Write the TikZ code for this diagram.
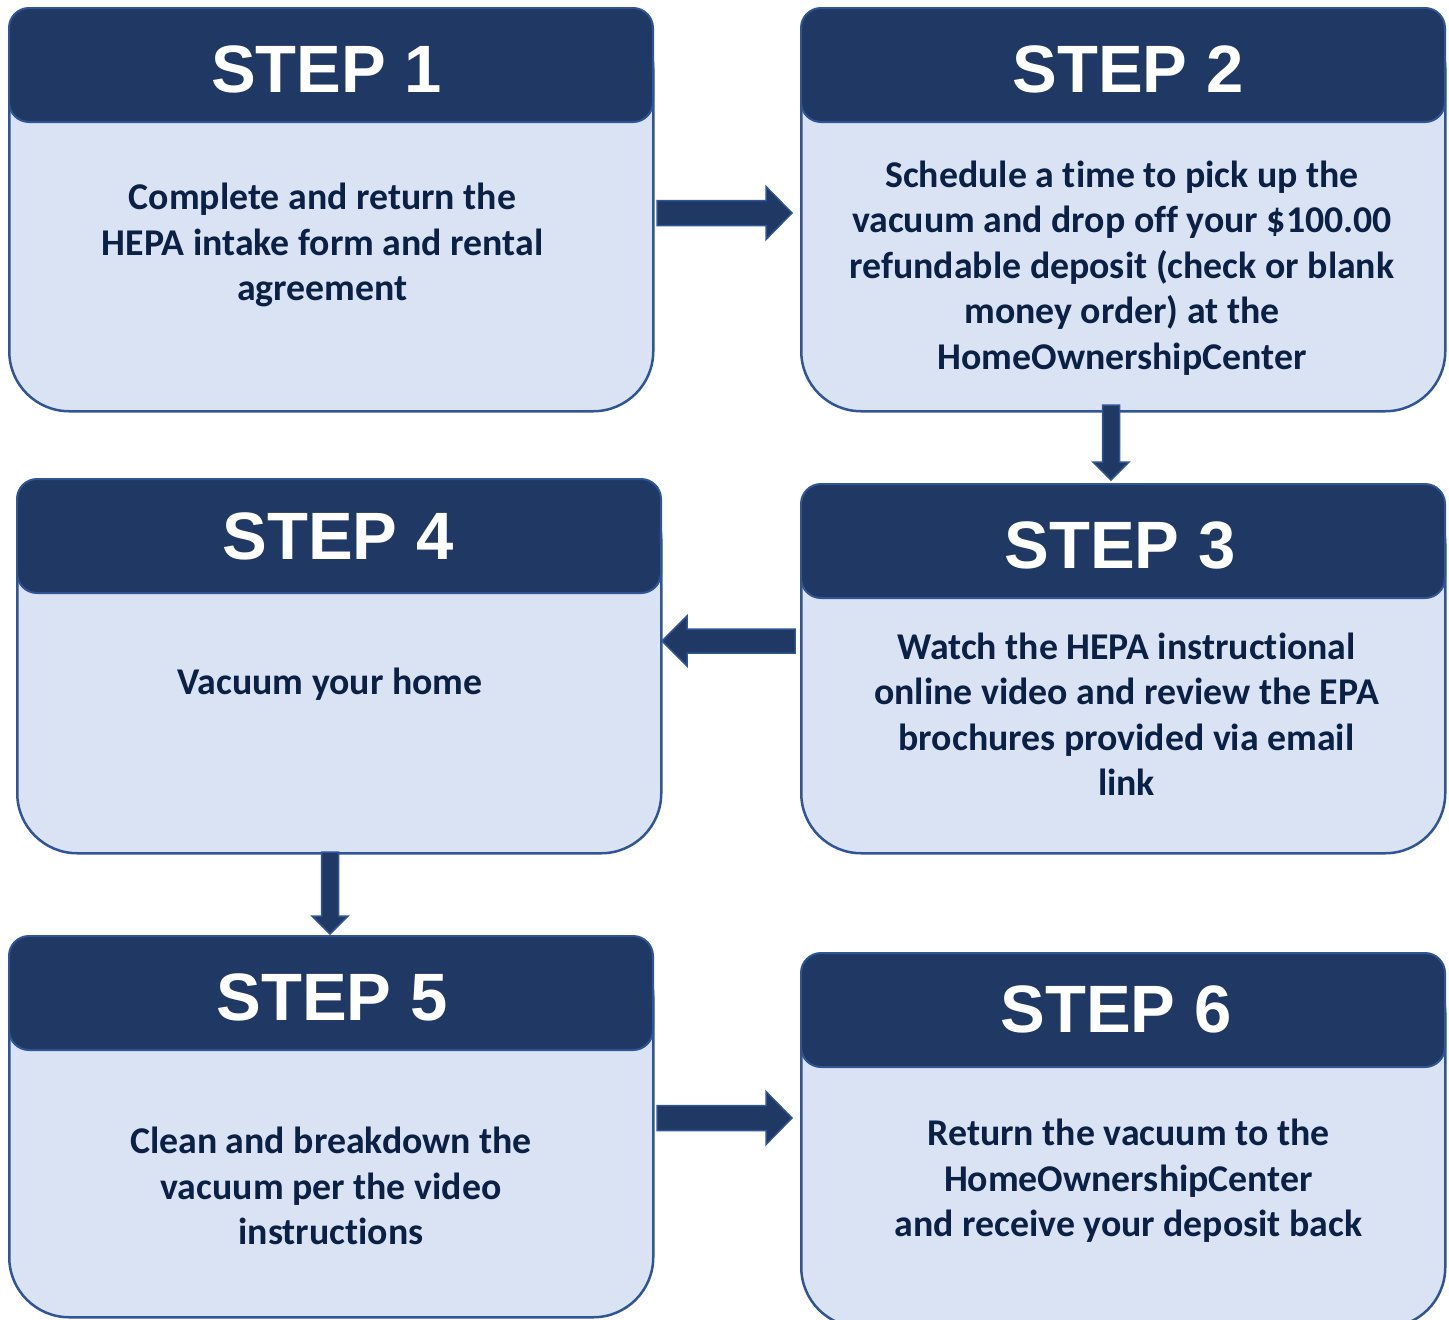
\documentclass[tikz,border=0pt]{standalone}
\usepackage{fontspec}
\setmainfont{Carlito}[Ligatures={NoCommon}]
\newfontfamily\titlefont{Liberation Sans}
\usetikzlibrary{calc}
\definecolor{hdr}{HTML}{1F3864}
\definecolor{lite}{HTML}{DAE3F3}
\definecolor{edge}{HTML}{2F5597}
\definecolor{ink}{HTML}{0B2045}
\tikzset{
  card/.style={draw=edge, fill=lite, line width=2.5pt, rounded corners=60pt, anchor=north west, minimum width=644pt, inner sep=0pt},
  header/.style={draw=edge, fill=hdr, line width=2pt, rounded corners=20pt, anchor=north west, minimum width=644pt, minimum height=114pt, inner sep=0pt},
  title/.style={font=\titlefont\bfseries\fontsize{67}{67}\selectfont, text=white, inner sep=0pt},
  body/.style={font=\bfseries\fontsize{37.8}{45.5}\selectfont, text=ink, align=center, inner sep=0pt},
  blk/.style={fill=hdr, draw=edge, line width=1.5pt},
}
\newcommand\harrowblk[5]{\path[blk] let \p1=(#1),\p2=(#2),\n1={sign(\x2-\x1)} in
  (\x1,{\y1+#3pt}) -- ({\x2-\n1*#5pt},{\y1+#3pt}) -- ({\x2-\n1*#5pt},{\y1+#4pt}) -- (\x2,\y1)
  -- ({\x2-\n1*#5pt},{\y1-#4pt}) -- ({\x2-\n1*#5pt},{\y1-#3pt}) -- (\x1,{\y1-#3pt}) -- cycle;}
\newcommand\varrowblk[5]{\path[blk] let \p1=(#1),\p2=(#2) in
  ({\x1-#3pt},\y1) -- ({\x1-#3pt},{\y2+#5pt}) -- ({\x1-#4pt},{\y2+#5pt}) -- (\x1,\y2)
  -- ({\x1+#4pt},{\y2+#5pt}) -- ({\x1+#3pt},{\y2+#5pt}) -- ({\x1+#3pt},\y1) -- cycle;}
\begin{document}
\begin{tikzpicture}[x=1pt,y=-1pt]
\useasboundingbox (0,0) rectangle (1449,1320);
% Step 1
\node[card, minimum height=403pt] (c1) at (8,7) {};
\node[header] (h1) at (8,7) {};
\node[title] (t1) at (326.5,69) {STEP 1};
\node[body] (b1) at (322.5,245) {Complete and return the\\HEPA intake form and rental\\agreement};
% Step 2
\node[card, minimum height=403pt] (c2) at (800,7) {};
\node[header] (h2) at (800,7) {};
\node[title] (t2) at (1128,69) {STEP 2};
\node[body] (b2) at (1122,268) {Schedule a time to pick up the\\vacuum and drop off your \$100.00\\refundable deposit (check or blank\\money order) at the\\HomeOwnershipCenter};
% Step 4
\node[card, minimum height=374pt] (c4) at (16,478) {};
\node[header] (h4) at (16,478) {};
\node[title] (t4) at (338,536) {STEP 4};
\node[body] (b4) at (330,684) {Vacuum your home};
% Step 3
\node[card, minimum height=369pt] (c3) at (800,483) {};
\node[header] (h3) at (800,483) {};
\node[title] (t3) at (1120,545) {STEP 3};
\node[body] (b3) at (1126.5,714) {Watch the HEPA instructional\\online video and review the EPA\\brochures provided via email\\link};
% Step 5
\node[card, minimum height=381pt] (c5) at (8,935) {};
\node[header] (h5) at (8,935) {};
\node[title] (t5) at (332,997) {STEP 5};
\node[body] (b5) at (331,1186) {Clean and breakdown the\\vacuum per the video\\instructions};
% Step 6
\node[card, minimum height=374pt] (c6) at (800,952) {};
\node[header] (h6) at (800,952) {};
\node[title] (t6) at (1116,1009) {STEP 6};
\node[body] (b6) at (1128.5,1181) {Return the vacuum to the\\HomeOwnershipCenter\\and receive your deposit back};
% arrows
\coordinate (a12s) at (657,213);  \coordinate (a12e) at (792,213);
\coordinate (a23s) at (1111,405); \coordinate (a23e) at (1111,480);
\coordinate (a34s) at (795,641);  \coordinate (a34e) at (662,641);
\coordinate (a45s) at (330,852);  \coordinate (a45e) at (330,934);
\coordinate (a56s) at (657,1118); \coordinate (a56e) at (792,1118);
\harrowblk{a12s}{a12e}{12.5}{26.5}{26}
\varrowblk{a23s}{a23e}{8.5}{18}{18}
\harrowblk{a34s}{a34e}{12}{25}{25}
\varrowblk{a45s}{a45e}{8.5}{18}{18}
\harrowblk{a56s}{a56e}{12.5}{26.5}{26}
\end{tikzpicture}
\end{document}
